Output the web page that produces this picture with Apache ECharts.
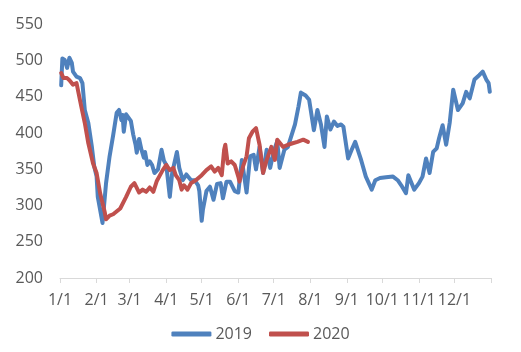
<!DOCTYPE html>
<html>
<head>
<meta charset="utf-8">
<script src="https://cdn.jsdelivr.net/npm/echarts@6/dist/echarts.min.js"></script>
<style>html,body{margin:0;padding:0;background:#fff}#c{width:521px;height:352px}</style>
</head>
<body>
<div id="c"></div>
<script>
// Month-start day indices (day 0 = Jan 1) and their tick labels
const monthStarts = [0, 31, 59, 90, 120, 151, 181, 212, 243, 273, 304, 334, 365];
const tickLabels = ['1/1', '2/1', '3/1', '4/1', '5/1', '6/1', '7/1', '8/1', '9/1', '10/1', '11/1', '12/1'];

const dates2019 = ['01-02','01-03','01-05','01-07','01-09','01-11','01-12','01-15','01-18','01-20','01-22','01-25','01-28','01-30',
  '02-01','02-02','02-05','02-06','02-09','02-12','02-15','02-16','02-18','02-20','02-22','02-23','02-24','02-26',
  '03-02','03-04','03-06','03-07','03-09','03-11','03-13','03-14','03-16','03-18','03-20','03-22','03-25','03-28','03-30',
  '04-01','04-04','04-06','04-10','04-12','04-15','04-18','04-22','04-25','04-28','04-29',
  '05-01','05-02','05-05','05-08','05-11','05-14','05-17','05-19','05-22','05-25','05-29',
  '06-01','06-04','06-08','06-11','06-14','06-16','06-19','06-22','06-25','06-28',
  '07-01','07-04','07-06','07-10','07-13','07-19','07-22','07-24','07-28','07-31',
  '08-04','08-07','08-10','08-13','08-15','08-18','08-21','08-24','08-27','08-29',
  '09-02','09-05','09-08','09-13','09-17','09-22','09-25','09-29',
  '10-04','10-10','10-14','10-17','10-21','10-23','10-28',
  '11-01','11-04','11-07','11-10','11-13','11-16','11-18','11-21','11-24','11-27','11-30',
  '12-04','12-08','12-11','12-14','12-18','12-22','12-25','12-28','12-30','12-31'];
const values2019 = [466,503,501,490,504,497,485,478,476,469,432,414,381,354,
  340,312,285,276,331,368,397,397,428,432,418,425,402,426,
  417,398,384,373,392,377,366,374,356,361,356,345,350,377,362,
  356,312,345,374,352,335,343,335,335,328,320,
  279,294,320,326,308,330,331,310,333,333,320,
  318,363,318,368,370,350,381,345,377,352,
  375,389,352,377,381,412,437,456,452,446,
  404,432,412,381,423,405,416,410,412,409,
  365,377,388,363,340,322,335,338,
  339,340,335,328,317,342,322,
  331,340,365,345,374,379,393,411,384,414,460,
  432,441,457,448,474,480,485,474,469,457];

const dates2020 = ['01-02','01-04','01-07','01-09','01-12','01-15','01-16','01-19','01-22','01-25','01-29',
  '02-01','02-04','02-08','02-09','02-12','02-15','02-21','02-26',
  '03-02','03-05','03-06','03-09','03-12','03-15','03-18','03-21','03-24','03-26','03-29',
  '04-01','04-04','04-07','04-09','04-12','04-14','04-16','04-19','04-22','04-26',
  '05-01','05-05','05-09','05-12','05-15','05-18','05-20','05-21','05-23','05-26','05-29',
  '06-01','06-02','06-05','06-08','06-10','06-13','06-16','06-19','06-22','06-25','06-29',
  '07-02','07-04','07-09','07-13','07-17','07-21','07-26','07-30'];
const values2020 = [483,476,476,473,467,469,471,437,414,386,358,
  345,317,290,281,286,288,296,312,
  326,331,331,318,322,319,325,319,334,340,349,
  356,349,352,342,335,322,328,322,331,335,
  342,349,354,347,352,342,377,384,358,361,356,
  340,333,354,368,393,402,407,384,345,363,381,
  363,391,381,384,386,388,391,388];

const cum = [0,31,59,90,120,151,181,212,243,273,304,334];
function dayIndex(s) { const [m, d] = s.split('-').map(Number); return cum[m - 1] + d - 1; }
function pairs(ds, vs) { return ds.map((d, i) => [dayIndex(d), vs[i]]); }

const font = 'Open Sans';
const chart = echarts.init(document.getElementById('c'), null, { renderer: 'canvas' });
chart.setOption({
  animation: false,
  backgroundColor: '#ffffff',
  textStyle: { fontFamily: font },
  grid: { left: 60, right: 30, top: 24.5, bottom: 74 },
  legend: {
    data: ['2019', '2020'],
    left: 'center',
    top: 321,
    icon: 'roundRect',
    itemWidth: 40,
    itemHeight: 5,
    itemGap: 17,
    textStyle: { color: '#595959', fontSize: 16, fontFamily: font, padding: [0, 0, 0, -1] }
  },
  xAxis: {
    type: 'value',
    min: 0,
    max: 365,
    axisLine: { lineStyle: { color: '#d9d9d9', width: 1 } },
    axisTick: { show: true, length: 5, customValues: monthStarts, lineStyle: { color: '#d9d9d9' } },
    axisLabel: {
      customValues: monthStarts.slice(0, 12),
      formatter: v => tickLabels[monthStarts.indexOf(v)] || '',
      color: '#595959', fontSize: 16, fontFamily: font, margin: 14
    },
    splitLine: { show: false }
  },
  yAxis: {
    type: 'value',
    min: 200,
    max: 550,
    interval: 50,
    axisLine: { show: false },
    axisTick: { show: false },
    splitLine: { show: false },
    axisLabel: { color: '#595959', fontSize: 16, fontFamily: font, margin: 17 }
  },
  series: [
    { name: '2019', type: 'line', data: pairs(dates2019, values2019), showSymbol: false, symbol: 'none',
      itemStyle: { color: '#4F81BD' }, lineStyle: { color: '#4F81BD', width: 4, join: 'round', cap: 'round' } },
    { name: '2020', type: 'line', data: pairs(dates2020, values2020), showSymbol: false, symbol: 'none',
      itemStyle: { color: '#C0504D' }, lineStyle: { color: '#C0504D', width: 4, join: 'round', cap: 'round' } }
  ]
});
</script>
</body>
</html>
